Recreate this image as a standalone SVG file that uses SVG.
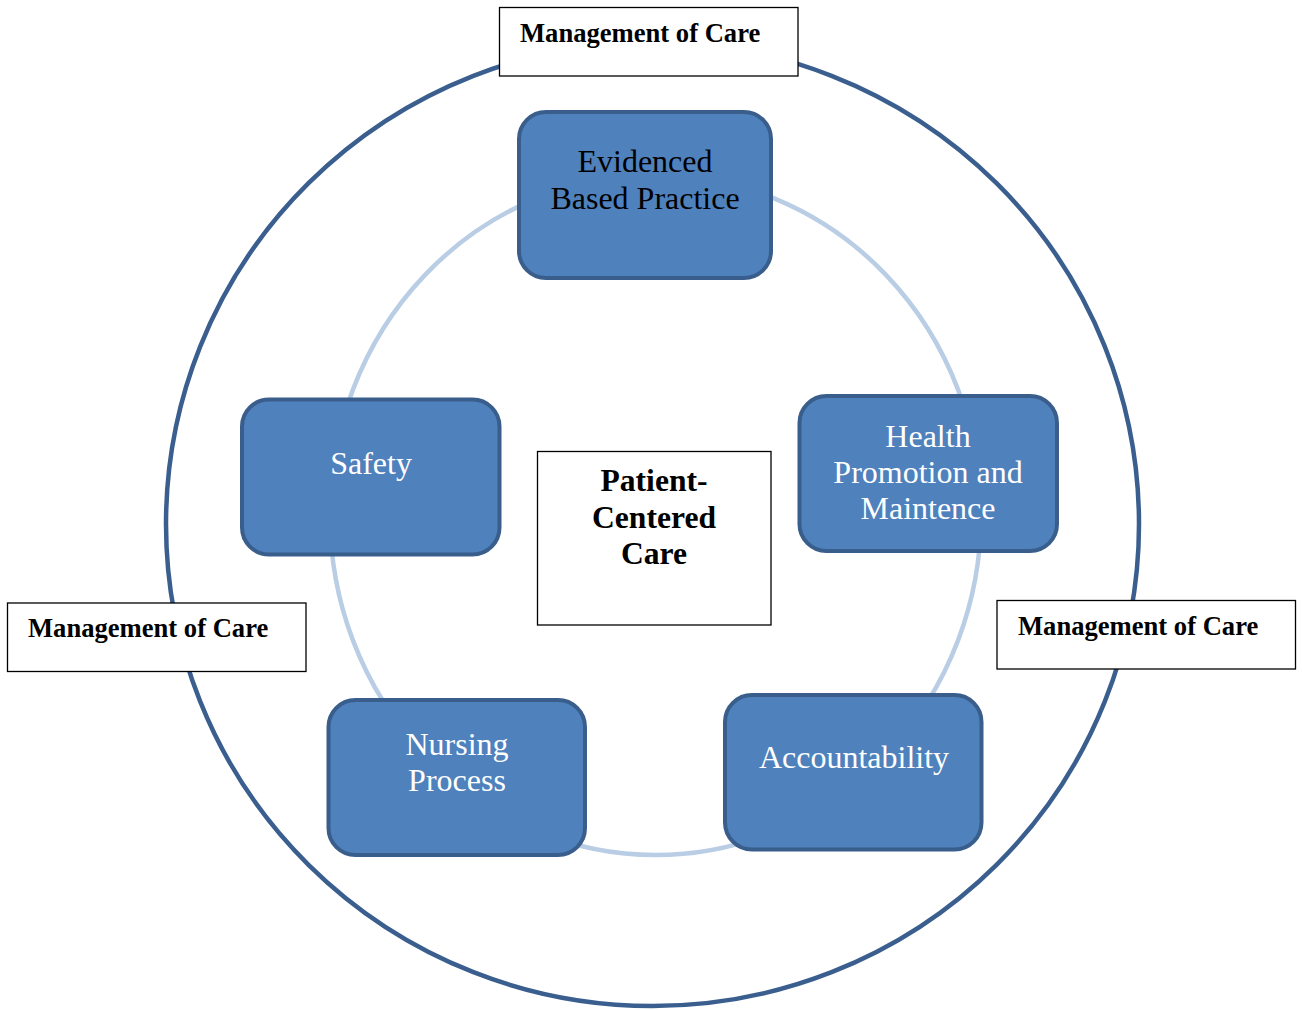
<svg xmlns="http://www.w3.org/2000/svg" width="1302" height="1010" viewBox="0 0 1302 1010">
<style>
.outer{fill:none;stroke:#3A5F8F;stroke-width:4.5}
.inner{fill:none;stroke:#B9CDE5;stroke-width:4.5}
.node{fill:#4F81BD;stroke:#3A5E8C;stroke-width:4}
.lbl{fill:#FFFFFF;stroke:#000000;stroke-width:1.3}
.t{font-family:"Liberation Serif","Times New Roman",serif;font-size:32px;text-anchor:middle;fill:#FFFFFF}
.dark{fill:#000000}
.tb{font-family:"Liberation Serif","Times New Roman",serif;font-size:26.6px;font-weight:bold;fill:#000000}
.tc{font-family:"Liberation Serif","Times New Roman",serif;font-size:31.6px;font-weight:bold;text-anchor:middle;fill:#000000}
</style>
<rect width="1302" height="1010" fill="#FFFFFF"/>
<g id="connectors">
<ellipse class="outer" cx="652.5" cy="524" rx="486.5" ry="482"/>
<ellipse class="inner" cx="655.5" cy="515" rx="325.5" ry="340"/>
</g>
<g id="node-ebp">
<rect class="node" x="519" y="112" width="252" height="166" rx="27"/>
<text class="t dark" x="645" y="172">Evidenced</text>
<text class="t dark" x="645" y="209">Based Practice</text>
</g>
<g id="node-health">
<rect class="node" x="799.5" y="396" width="257.5" height="155" rx="27"/>
<text class="t" x="928" y="447">Health</text>
<text class="t" x="928" y="483">Promotion and</text>
<text class="t" x="928" y="519">Maintence</text>
</g>
<g id="node-safety">
<rect class="node" x="242" y="399.5" width="257.5" height="155" rx="27"/>
<text class="t" x="371" y="474">Safety</text>
</g>
<g id="node-nursing">
<rect class="node" x="328.5" y="700" width="256.5" height="155" rx="27"/>
<text class="t" x="457" y="755">Nursing</text>
<text class="t" x="457" y="791">Process</text>
</g>
<g id="node-accountability">
<rect class="node" x="725" y="695" width="256.5" height="154.5" rx="27"/>
<text class="t" x="854" y="768">Accountability</text>
</g>
<g id="node-center">
<rect class="lbl" x="537.5" y="451.5" width="233.5" height="173.5"/>
<text class="tc" x="654" y="491">Patient-</text>
<text class="tc" x="654" y="528">Centered</text>
<text class="tc" x="654" y="564">Care</text>
</g>
<g id="label-top">
<rect class="lbl" x="499.5" y="7.5" width="298.5" height="68.5"/>
<text class="tb" x="520" y="42">Management of Care</text>
</g>
<g id="label-left">
<rect class="lbl" x="7.5" y="603" width="298.5" height="68.5"/>
<text class="tb" x="28" y="637">Management of Care</text>
</g>
<g id="label-right">
<rect class="lbl" x="997" y="600.5" width="298.5" height="68.5"/>
<text class="tb" x="1018" y="635">Management of Care</text>
</g>
</svg>
